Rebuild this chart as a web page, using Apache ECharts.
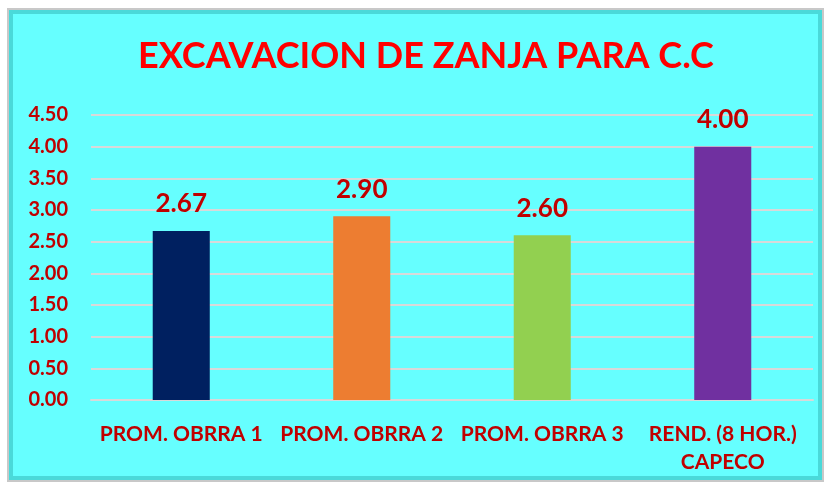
<!DOCTYPE html>
<html>
<head>
<meta charset="utf-8">
<script src="https://cdn.jsdelivr.net/npm/echarts@6/dist/echarts.min.js"></script>
<style>
  html, body { margin: 0; padding: 0; background: #fff; }
  #container { width: 830px; height: 482px; }
</style>
</head>
<body>
<div id="container"></div>
<script>
// datos
var categorias = ['PROM. OBRRA 1', 'PROM. OBRRA 2', 'PROM. OBRRA 3', 'REND. (8 HOR.)\nCAPECO']
var valores = [2.67, 2.90, 2.60, 4.00]
var colores = ['#002060', '#ED7D31', '#92D050', '#7030A0']

var fuente = 'Lato, "Open Sans", sans-serif'

var chartInit = function () {
    var dom = document.getElementById('container')
    var myChart = echarts.init(dom)

    var data = []
    for (let i = 0; i < valores.length; i++) {
        data.push({
            value: valores[i],
            itemStyle: { color: colores[i] },
        })
    }

    var option = {
        backgroundColor: '#ffffff',
        graphic: [
            {
                type: 'rect',
                z: -10,
                shape: { x: 8, y: 9, width: 815, height: 472 },
                style: { fill: '#66FFFF', stroke: '#c8c8c8', lineWidth: 2 },
            },
            {
                type: 'rect',
                z: -9,
                shape: { x: 11, y: 12, width: 809, height: 466 },
                style: { fill: 'none', stroke: 'rgba(40,170,170,0.45)', lineWidth: 4 },
            },
        ],
        title: {
            text: 'EXCAVACION DE ZANJA PARA C.C',
            left: 133,
            top: 33,
            textStyle: {
                color: '#FF0000',
                fontFamily: fuente,
                fontWeight: 'bold',
                fontSize: 36,
            },
        },
        grid: {
            left: 91,
            right: 17,
            top: 115,
            bottom: 82,
        },
        xAxis: {
            type: 'category',
            data: categorias,
            axisLine: { lineStyle: { color: '#d9d9d9', width: 2 } },
            axisTick: { show: false },
            axisLabel: {
                color: '#C00000',
                fontFamily: fuente,
                fontWeight: 'bold',
                fontSize: 21,
                margin: 20,
                lineHeight: 28,
                interval: 0,
            },
        },
        yAxis: {
            type: 'value',
            min: 0,
            max: 4.5,
            interval: 0.5,
            axisLine: { show: false },
            axisTick: { show: false },
            splitLine: { lineStyle: { color: '#d9d9d9', width: 2 } },
            axisLabel: {
                color: '#C00000',
                fontFamily: fuente,
                fontWeight: 'bold',
                fontSize: 20,
                margin: 23,
                formatter: function (v) { return v.toFixed(2) },
            },
        },
        series: [
            {
                type: 'bar',
                data: data,
                barWidth: '31.6%',
                label: {
                    show: true,
                    position: 'top',
                    distance: 14,
                    color: '#C00000',
                    fontFamily: fuente,
                    fontWeight: 'bold',
                    fontSize: 26,
                    formatter: function (p) { return p.value.toFixed(2) },
                },
            },
        ],
    }

    myChart.setOption(option, true)
}

chartInit()
</script>
</body>
</html>
